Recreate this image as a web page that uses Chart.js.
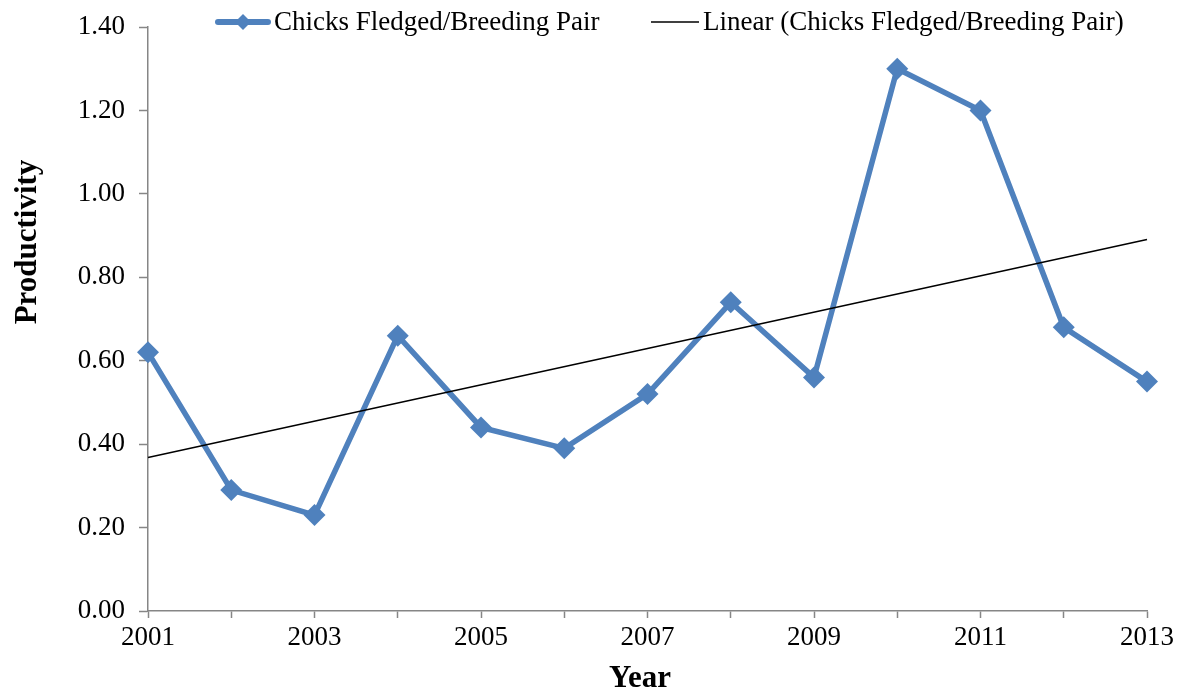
<!DOCTYPE html>
<html>
<head>
<meta charset="utf-8">
<script src="https://cdn.jsdelivr.net/npm/chart.js@4.4.1/dist/chart.umd.min.js"></script>
<style>
  html, body { margin: 0; padding: 0; background: #ffffff; }
  #wrap { width: 1177px; height: 689px; position: relative; }
</style>
</head>
<body>
<div id="wrap"><canvas id="chart"></canvas></div>
<script>
// Chicks fledged per breeding pair, by year
const years = [2001, 2002, 2003, 2004, 2005, 2006, 2007, 2008, 2009, 2010, 2011, 2012, 2013];
const productivity = [0.62, 0.29, 0.23, 0.66, 0.44, 0.39, 0.52, 0.74, 0.56, 1.30, 1.20, 0.68, 0.55];
const yTicks = [0.00, 0.20, 0.40, 0.60, 0.80, 1.00, 1.20, 1.40];
const seriesLabel = 'Chicks Fledged/Breeding Pair';
const trendLabel = 'Linear (Chicks Fledged/Breeding Pair)';
const xTitle = 'Year';
const yTitle = 'Productivity';

// Least-squares trend line over the series
function linearFit(xs, ys) {
  const n = xs.length;
  const mx = xs.reduce((a, b) => a + b, 0) / n;
  const my = ys.reduce((a, b) => a + b, 0) / n;
  let sxy = 0, sxx = 0;
  for (let i = 0; i < n; i++) {
    sxy += (xs[i] - mx) * (ys[i] - my);
    sxx += (xs[i] - mx) * (xs[i] - mx);
  }
  const slope = sxy / sxx;
  return x => my + slope * (x - mx);
}
const fit = linearFit(years, productivity);
const first = years[0], last = years[years.length - 1];
const trendPoints = [{ x: first, y: fit(first) }, { x: last, y: fit(last) }];

const BLUE = '#4F81BD';
const AXIS = '#868686';
const SERIF = '"Liberation Serif", "Times New Roman", serif';

// Legend row across the top and the two axis titles
const decorations = {
  id: 'decorations',
  afterDraw(chart) {
    const ctx = chart.ctx;
    const y = 22;
    ctx.save();
    ctx.font = '27px ' + SERIF;
    ctx.textBaseline = 'middle';
    // series entry
    ctx.strokeStyle = BLUE;
    ctx.lineWidth = 6;
    ctx.lineCap = 'round';
    ctx.beginPath(); ctx.moveTo(218, y); ctx.lineTo(268, y); ctx.stroke();
    ctx.fillStyle = BLUE;
    ctx.beginPath();
    ctx.moveTo(243, y - 8); ctx.lineTo(251, y); ctx.lineTo(243, y + 8); ctx.lineTo(235, y);
    ctx.closePath(); ctx.fill();
    ctx.fillStyle = '#000';
    ctx.fillText(seriesLabel, 274, y + 1);
    // trend entry
    ctx.strokeStyle = '#000';
    ctx.lineWidth = 1.5;
    ctx.lineCap = 'butt';
    ctx.beginPath(); ctx.moveTo(651, y); ctx.lineTo(699, y); ctx.stroke();
    ctx.fillText(trendLabel, 703, y + 1);

    // axis titles
    ctx.font = 'bold 31px ' + SERIF;
    ctx.textAlign = 'center';
    ctx.textBaseline = 'alphabetic';
    ctx.fillText(xTitle, 640, 687);
    ctx.translate(36, 242);
    ctx.rotate(-Math.PI / 2);
    ctx.fillText(yTitle, 0, 0);
    ctx.restore();
  }
};

new Chart(document.getElementById('chart'), {
  type: 'line',
  data: {
    datasets: [
      {
        label: seriesLabel,
        data: years.map((yr, i) => ({ x: yr, y: productivity[i] })),
        borderColor: BLUE,
        backgroundColor: BLUE,
        borderWidth: 5.5,
        pointStyle: 'rectRot',
        pointRadius: 11,
        pointBorderWidth: 0,
        pointBackgroundColor: BLUE,
        tension: 0,
        clip: false,
        order: 1
      },
      {
        label: trendLabel,
        data: trendPoints,
        borderColor: '#000',
        borderWidth: 1.5,
        pointRadius: 0,
        tension: 0,
        clip: false,
        order: 0
      }
    ]
  },
  options: {
    responsive: true,
    maintainAspectRatio: false,
    animation: false,
    layout: { padding: { top: 27, right: 30, left: 0, bottom: 0 } },
    plugins: { legend: { display: false }, tooltip: { enabled: false } },
    scales: {
      x: {
        type: 'linear',
        min: first,
        max: last,
        afterFit: s => { s.height = 78; s.paddingLeft = 0; s.paddingRight = 0; },
        afterBuildTicks: s => { s.ticks = years.map(v => ({ value: v })); },
        ticks: {
          autoSkip: false,
          maxRotation: 0,
          padding: 4,
          color: '#000',
          font: { family: SERIF, size: 27 },
          callback: v => (v - first) % 2 === 0 ? String(v) : ''
        },
        grid: { drawOnChartArea: false, drawTicks: true, tickLength: 7, color: AXIS, tickWidth: 1.5 },
        border: { color: AXIS, width: 1.5 }
      },
      y: {
        min: 0,
        max: 1.4,
        afterFit: s => { s.width = 148; s.paddingTop = 0; s.paddingBottom = 0; },
        afterBuildTicks: s => { s.ticks = yTicks.map(v => ({ value: v })); },
        ticks: {
          padding: 14,
          color: '#000',
          font: { family: SERIF, size: 27 },
          callback: v => v.toFixed(2)
        },
        grid: { drawOnChartArea: false, drawTicks: true, tickLength: 9, color: AXIS, tickWidth: 1.5 },
        border: { color: AXIS, width: 1.5 }
      }
    }
  },
  plugins: [decorations]
});
</script>
</body>
</html>
